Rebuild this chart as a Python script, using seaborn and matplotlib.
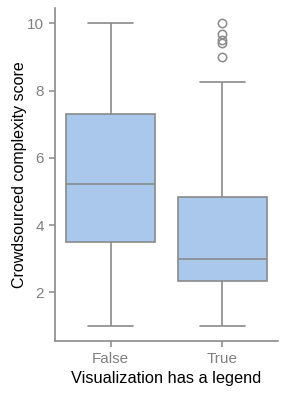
import matplotlib.pyplot as plt
import seaborn as sns
import pandas as pd

# scores (built so the quartiles and whiskers match)
scores_false = [1.0, 2.5, 3.5, 4.4, 5.22, 6.3, 7.31, 8.5, 10.0]
scores_true = [1.0, 1.33, 1.67, 2.0, 2.0, 2.0, 2.33, 2.33, 2.67, 2.67, 3.0, 3.0,
               3.0, 3.33, 3.67, 4.0, 4.33, 4.67, 4.83, 8.25,
               9.0, 9.42, 9.5, 9.67, 10.0]
categories = ["False", "True"]

df = pd.DataFrame({
    "legend": ["False"] * len(scores_false) + ["True"] * len(scores_true),
    "score": scores_false + scores_true,
})

sns.set_style("ticks")
plt.rcParams["font.family"] = ["Liberation Sans", "DejaVu Sans"]

grey = "#8a8a8a"
fig = plt.figure(figsize=(2.87, 3.93), dpi=100)
ax = fig.add_axes([0.1916, 0.1323, 0.777, 0.847])

sns.boxplot(data=df, x="legend", y="score", order=categories, ax=ax,
            color="#a9c8ec", saturation=1, width=0.8, linecolor=grey,
            linewidth=1.2,
            flierprops=dict(marker="o", markerfacecolor="none",
                            markeredgecolor=grey, markersize=6,
                            markeredgewidth=1.1))

sns.despine(ax=ax)
for side in ["left", "bottom"]:
    ax.spines[side].set_color(grey)
    ax.spines[side].set_linewidth(1.2)
ax.tick_params(colors=grey, labelsize=11, length=4.3, width=1.1)
for lab in ax.get_xticklabels() + ax.get_yticklabels():
    lab.set_color("#808080")
ax.set_yticks([2, 4, 6, 8, 10])
ax.set_xlabel("Visualization has a legend", fontsize=11.8, color="black")
ax.set_ylabel("Crowdsourced complexity score", fontsize=11.5, color="black",
              labelpad=0)

fig.savefig("out.png", dpi=100)
